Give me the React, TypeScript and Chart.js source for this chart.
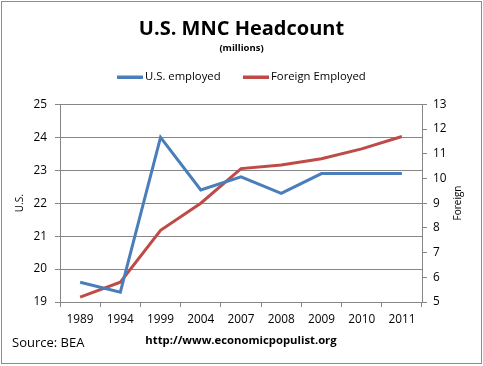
import React, { useEffect, useRef } from "react";
import { Chart, registerables } from "chart.js";

Chart.register(...registerables);

const categories = ["1989", "1994", "1999", "2004", "2007", "2008", "2009", "2010", "2011"];
const usEmployed = [19.6, 19.3, 24.0, 22.4, 22.8, 22.3, 22.9, 22.9, 22.9];
const foreignEmployed = [5.2, 5.8, 7.9, 9.0, 10.4, 10.55, 10.8, 11.2, 11.7];

const FONT = "'Open Sans', 'Noto Sans', sans-serif";
const GRID = "#868686";
const BLUE = "#4A7EBB";
const RED = "#BE4B48";

const extras = {
  id: "extras",
  afterDraw(chart: any) {
    const ctx = chart.ctx;
    ctx.save();
    ctx.fillStyle = "#000";
    ctx.textBaseline = "middle";

    // legend
    const items = chart.data.datasets.map((d: any) => ({ text: d.label, color: d.borderColor }));
    const legendPos = [117, 243];
    ctx.font = `11.3px ${FONT}`;
    ctx.textAlign = "left";
    items.forEach((it: any, i: number) => {
      const x = legendPos[i];
      ctx.fillStyle = it.color;
      ctx.fillRect(x, 75.5, 26, 3.5);
      ctx.fillStyle = "#000";
      ctx.fillText(it.text, x + 28, 77);
    });

    // right axis title (reads bottom to top)
    ctx.save();
    ctx.translate(458, 203);
    ctx.rotate(-Math.PI / 2);
    ctx.textAlign = "center";
    ctx.font = `10px ${FONT}`;
    ctx.fillText("Foreign", 0, 0);
    ctx.restore();

    ctx.font = `13px ${FONT}`;
    ctx.textAlign = "left";
    ctx.fillText("Source: BEA", 12, 343);
    ctx.font = `bold 11.3px ${FONT}`;
    ctx.textAlign = "center";
    ctx.fillText("http://www.economicpopulist.org", 241, 341);
    ctx.strokeStyle = "#8c8c8c";
    ctx.lineWidth = 1;
    ctx.strokeRect(1.5, 1.5, 480, 362);
    ctx.restore();
  },
};

export default function App() {
  const ref = useRef<HTMLCanvasElement>(null);
  useEffect(() => {
    document.body.style.margin = "0";
    const chart = new Chart(ref.current!, {
      type: "line",
      data: {
        labels: categories,
        datasets: [
          {
            label: "U.S. employed",
            data: usEmployed,
            borderColor: BLUE,
            backgroundColor: BLUE,
            borderWidth: 3,
            pointRadius: 0,
            tension: 0,
            yAxisID: "y",
          },
          {
            label: "Foreign Employed",
            data: foreignEmployed,
            borderColor: RED,
            backgroundColor: RED,
            borderWidth: 3,
            pointRadius: 0,
            tension: 0,
            yAxisID: "y1",
          },
        ],
      },
      options: {
        responsive: false,
        animation: false,
        layout: { padding: { top: 0, left: 0, right: 0, bottom: 0 } },
        plugins: {
          title: {
            display: true,
            text: "U.S. MNC Headcount",
            color: "#000",
            font: { family: FONT, size: 20, weight: "bold" },
            padding: { top: 17, bottom: 2 },
          },
          subtitle: {
            display: true,
            text: "(millions)",
            color: "#000",
            font: { family: FONT, size: 9.5, weight: "bold" },
            padding: { top: 0, bottom: 50 },
          },
          legend: { display: false },
          tooltip: { enabled: false },
        },
        scales: {
          x: {
            offset: true,
            grid: {
              offset: true,
              drawOnChartArea: false,
              color: GRID,
              tickLength: 5,
            },
            border: { color: GRID },
            ticks: { color: "#000", font: { family: FONT, size: 11.8 }, padding: 6, maxRotation: 0, autoSkip: false },
            afterFit(scale: any) {
              scale.height = 64;
            },
          },
          y: {
            position: "left",
            min: 19,
            max: 25,
            ticks: { stepSize: 1, color: "#000", font: { family: FONT, size: 11.8 }, padding: 8 },
            grid: { color: GRID, tickLength: 5 },
            border: { color: GRID },
            title: { display: true, text: "U.S.", color: "#000", font: { family: FONT, size: 10 }, padding: { top: 14, bottom: 0 } },
            afterFit(scale: any) {
              scale.width = 60;
            },
          },
          y1: {
            position: "right",
            min: 5,
            max: 13,
            ticks: { stepSize: 1, color: "#000", font: { family: FONT, size: 11.8 }, padding: 6 },
            grid: { drawOnChartArea: false, color: GRID, tickLength: 5 },
            border: { color: GRID },
            afterFit(scale: any) {
              scale.width = 61;
            },
          },
        },
      },
      plugins: [extras],
    } as any);
    return () => chart.destroy();
  }, []);
  return (
    <div style={{ position: "absolute", left: 0, top: 0, width: 483, height: 366, background: "#fff" }}>
      <canvas ref={ref} width={483} height={366} style={{ display: "block" }} />
    </div>
  );
}
